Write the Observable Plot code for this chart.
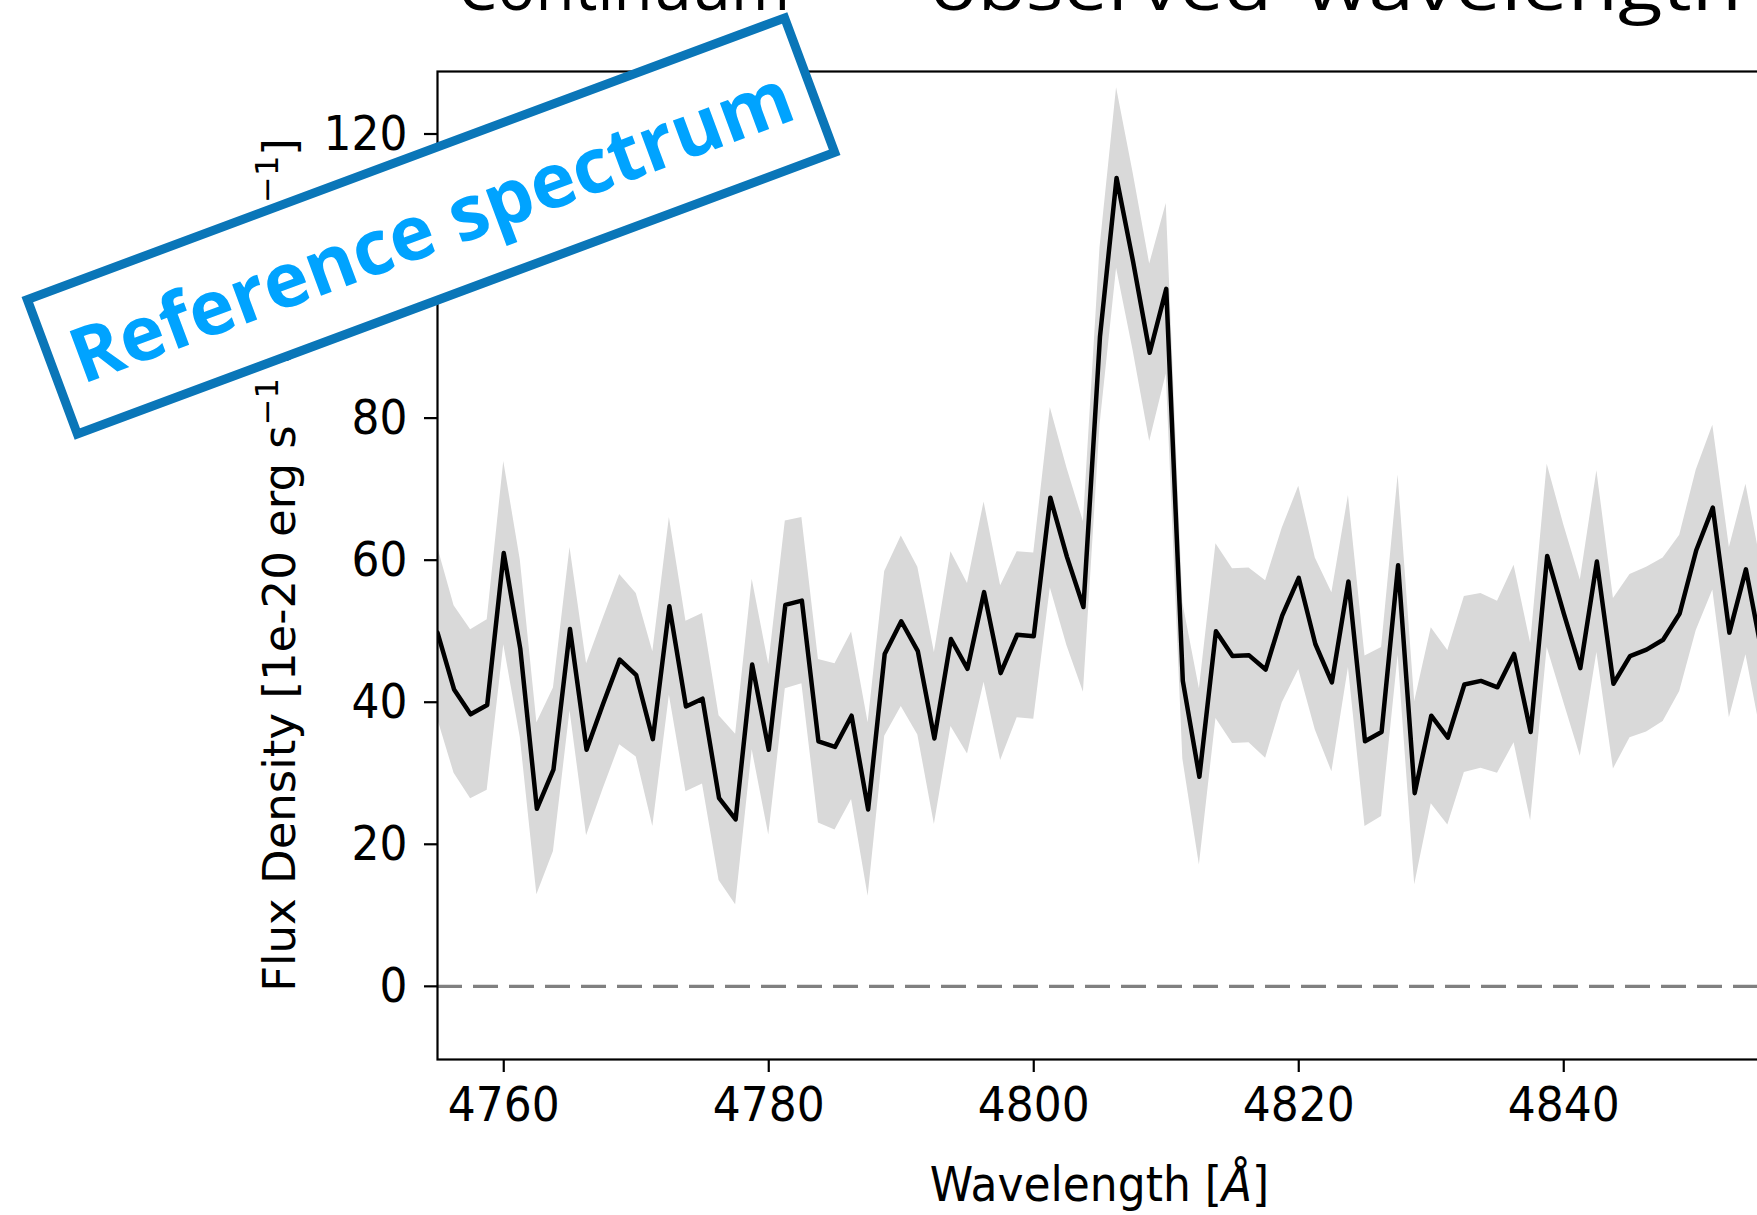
<!DOCTYPE html>
<html>
<head>
<meta charset="utf-8">
<script src="https://cdn.jsdelivr.net/npm/d3@7"></script>
<script src="https://cdn.jsdelivr.net/npm/@observablehq/plot@0.6"></script>
<style>
html, body { margin: 0; padding: 0; background: #fff; overflow: hidden; width: 1757px; height: 1215px; }
#wrap { position: relative; width: 1757px; height: 1215px; overflow: hidden; background: #fff; }
#chart { position: absolute; left: 0; top: 0; width: 1772px; }
#chart svg { max-width: none !important; }
#overlay { position: absolute; left: 0; top: 0; pointer-events: none; overflow: hidden; }
</style>
</head>
<body>
<div id="wrap"><div id="chart"></div><svg id="overlay" width="1757" height="1215"></svg></div>
<script>
// ---- data ----
const wavelength = [
  4755.00, 4756.25, 4757.50, 4758.75, 4760.00, 4761.25, 4762.50, 4763.75, 4765.00, 4766.25,
  4767.50, 4768.75, 4770.00, 4771.25, 4772.50, 4773.75, 4775.00, 4776.25, 4777.50, 4778.75,
  4780.00, 4781.25, 4782.50, 4783.75, 4785.00, 4786.25, 4787.50, 4788.75, 4790.00, 4791.25,
  4792.50, 4793.75, 4795.00, 4796.25, 4797.50, 4798.75, 4800.00, 4801.25, 4802.50, 4803.75,
  4805.00, 4806.25, 4807.50, 4808.75, 4810.00, 4811.25, 4812.50, 4813.75, 4815.00, 4816.25,
  4817.50, 4818.75, 4820.00, 4821.25, 4822.50, 4823.75, 4825.00, 4826.25, 4827.50, 4828.75,
  4830.00, 4831.25, 4832.50, 4833.75, 4835.00, 4836.25, 4837.50, 4838.75, 4840.00, 4841.25,
  4842.50, 4843.75, 4845.00, 4846.25, 4847.50, 4848.75, 4850.00, 4851.25, 4852.50, 4853.75,
  4855.00
];
const flux = [
  49.8, 41.8, 38.3, 39.6, 61.0, 47.5, 25.0, 30.5, 50.3, 33.3,
  39.8, 46.0, 43.8, 34.8, 53.5, 39.4, 40.5, 26.5, 23.5, 45.3,
  33.3, 53.7, 54.3, 34.5, 33.7, 38.1, 24.9, 46.8, 51.4, 47.2,
  34.9, 48.9, 44.7, 55.5, 44.1, 49.5, 49.3, 68.8, 60.5, 53.4,
  91.5, 113.8, 102.0, 89.2, 98.2, 43.0, 29.5, 50.0, 46.5, 46.6,
  44.6, 52.2, 57.5, 48.2, 42.8, 57.0, 34.5, 35.8, 59.3, 27.2,
  38.1, 35.0, 42.5, 43.0, 42.1, 46.8, 35.8, 60.6, 52.5, 44.8,
  59.8, 42.6, 46.5, 47.4, 48.8, 52.5, 61.4, 67.4, 49.8, 58.7,
  46.5
];
const fluxErr = [
  12.1, 11.8, 11.9, 12.0, 12.9, 12.5, 12.1, 11.5, 11.5, 12.1,
  12.0, 12.0, 11.5, 12.3, 12.5, 12.0, 12.0, 11.6, 12.0, 12.0,
  12.0, 11.8, 11.7, 11.5, 11.7, 11.8, 12.2, 11.6, 12.0, 11.8,
  12.1, 12.3, 12.0, 12.7, 12.3, 11.7, 11.7, 12.7, 12.5, 12.0,
  12.5, 12.7, 12.5, 12.5, 12.0, 11.0, 12.4, 12.3, 12.3, 12.3,
  12.5, 12.3, 12.9, 12.1, 12.6, 12.1, 12.0, 11.9, 12.7, 12.9,
  12.4, 12.3, 12.4, 12.3, 12.1, 12.5, 12.5, 12.9, 12.5, 12.4,
  12.8, 12.0, 11.5, 11.6, 11.5, 11.0, 11.3, 11.6, 12.0, 12.0,
  12.0
];
const xTicks = [4760, 4780, 4800, 4820, 4840];
const yTicks = [0, 20, 40, 60, 80, 100, 120];
const xDomain = [4755, 4855];
const yDomain = [-10.3, 128.8];
const titleWords = ["Continuum", "\u2013", "observed", "wavelength"];
const xLabelText = "Wavelength [";
const yLabelParts = ["Flux Density [1e-20 erg s", "\u22121", " cm", "\u22122", " \u00C5", "\u22121", "]"];
const stampText = "Reference spectrum";

// ---- build table for the library ----
const rows = wavelength.map((w, i) => ({w, f: flux[i], lo: flux[i] - fluxErr[i], hi: flux[i] + fluxErr[i]}));

const W = 1772, H = 1215;
const mL = 437, mT = 71, mB = H - 1059, mR = W - 1762;
const TEXT_STRETCH = 1.1;

const chart = Plot.plot({
  width: W,
  height: H,
  marginLeft: mL,
  marginRight: mR,
  marginTop: mT,
  marginBottom: mB,
  style: {fontFamily: "'DejaVu Sans', sans-serif", fontSize: "44px", color: "#000", background: "transparent", overflow: "visible", maxWidth: "none"},
  x: {domain: xDomain},
  y: {domain: yDomain},
  marks: [
    Plot.areaY(rows, {x: "w", y1: "lo", y2: "hi", fill: "#d9d9d9", clip: true}),
    Plot.lineY(rows, {x: "w", y: "f", stroke: "#000", strokeWidth: 4.5, strokeLinejoin: "round", clip: true}),
    Plot.ruleY([0], {stroke: "#808080", strokeWidth: 3.2, strokeDasharray: "25,11"}),
    Plot.frame({stroke: "#000", strokeWidth: 2.2}),
    Plot.axisX(xTicks, {tickSize: 13, tickPadding: 14, tickFormat: "d", label: null, strokeWidth: 2.2, fontSize: 44}),
    Plot.axisY(yTicks, {tickSize: 13, tickPadding: 17, tickFormat: "d", label: null, strokeWidth: 2.2, fontSize: 44})
  ]
});
document.getElementById("chart").appendChild(chart);

const svg = d3.select(chart);

// stretch tick labels slightly in height, as in the reference rendering
svg.selectAll('g[aria-label="x-axis tick label"] text, g[aria-label="y-axis tick label"] text').each(function () {
  let t = this.getAttribute("transform") || "";
  const x = this.getAttribute("x"), y = this.getAttribute("y");
  if (!t && x != null && y != null && !isNaN(+x) && !isNaN(+y)) {
    t = `translate(${x},${y})`;
    this.removeAttribute("x");
    this.removeAttribute("y");
  }
  this.setAttribute("transform", `${t} scale(1,${TEXT_STRETCH})`);
});

// axis labels (matplotlib style, with superscripts)
const plotCenterX = (mL + (W - mR)) / 2;
const plotCenterY = (mT + (H - mB)) / 2;

const xl = svg.append("text")
  .attr("transform", `translate(${plotCenterX},1201) scale(1,${TEXT_STRETCH})`)
  .attr("text-anchor", "middle")
  .attr("font-family", "'DejaVu Sans', sans-serif")
  .attr("font-size", 44).attr("fill", "#000");
xl.append("tspan").text(xLabelText);
xl.append("tspan").attr("font-style", "italic").text("\u00C5");
xl.append("tspan").text("]");

const yl = svg.append("text")
  .attr("transform", `translate(295,${plotCenterY}) rotate(-90)`)
  .attr("text-anchor", "middle")
  .attr("font-family", "'DejaVu Sans', sans-serif")
  .attr("font-size", 45).attr("fill", "#000");
yLabelParts.forEach((p, i) => {
  const t = yl.append("tspan").text(p);
  if (i % 2 === 1) t.attr("font-size", 32).attr("dy", -17);
  else if (i > 0) t.attr("dy", 17);
});

// overlay: title (cut off by the top edge, as in the reference) and the "Reference spectrum" stamp
const ov = d3.select("#overlay");
const titleX = [457, 824, 930, 1305];
const titleLen = [333, 66, 342, 437];
titleWords.forEach((wd, i) => {
  ov.append("text")
    .attr("x", titleX[i]).attr("y", 10)
    .attr("font-family", "'Open Sans', sans-serif")
    .attr("font-size", 68).attr("fill", "#000")
    .attr("textLength", titleLen[i]).attr("lengthAdjust", "spacingAndGlyphs")
    .text(wd);
});

const g = ov.append("g").attr("transform", "translate(431,226) rotate(-20.4)");
g.append("rect")
  .attr("x", -404).attr("y", -71.75).attr("width", 808).attr("height", 143.5)
  .attr("fill", "#fff").attr("stroke", "#0a76b8").attr("stroke-width", 9);
g.append("text")
  .attr("x", 0).attr("y", 27)
  .attr("text-anchor", "middle")
  .attr("font-family", "'Open Sans', sans-serif")
  .attr("font-weight", 700)
  .attr("font-size", 76)
  .attr("fill", "#00a3ff")
  .text(stampText);
</script>
</body>
</html>
